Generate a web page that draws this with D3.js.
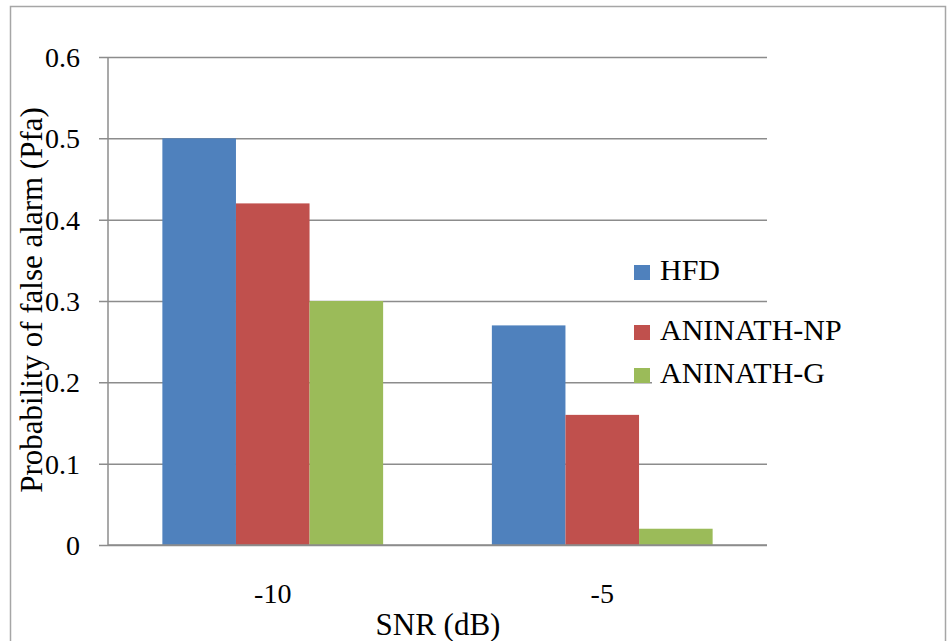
<!DOCTYPE html>
<html>
<head>
<meta charset="utf-8">
<script src="https://cdn.jsdelivr.net/npm/d3@7"></script>
<style>
  html, body { margin: 0; padding: 0; background: #fff; }
  svg { display: block; }
  svg text { font-family: 'Liberation Serif', 'Times New Roman', serif !important; }
</style>
</head>
<body>
<svg id="chart" width="947" height="641"></svg>
<script>
// Probability of false alarm per detector at two SNR levels
const categories = ["-10", "-5"];
const seriesNames = ["HFD", "ANINATH-NP", "ANINATH-G"];
const hfd = [0.5, 0.27];
const aninathNP = [0.42, 0.16];
const aninathG = [0.3, 0.02];
const yTicks = [0, 0.1, 0.2, 0.3, 0.4, 0.5, 0.6];
const colors = ["#4f81bd", "#c0504d", "#9bbb59"];

const seriesValues = [hfd, aninathNP, aninathG];
const FONT = "'Liberation Serif'";

const svg = d3.select("#chart");
const plot = { left: 108, right: 767, top: 57, bottom: 545 };

function serif(sel, size) {
  return sel
    .attr("font-family", FONT)
    .style("font-family", "'Liberation Serif', serif", "important")
    .attr("font-size", size)
    .attr("fill", "#000");
}

// Outer chart frame
svg.append("rect")
  .attr("x", 10.5).attr("y", 6.5)
  .attr("width", 935).attr("height", 650)
  .attr("fill", "#fff")
  .attr("stroke", "#a6a6a6").attr("stroke-width", 1.5);

const x0 = d3.scaleBand()
  .domain(categories)
  .range([plot.left, plot.right])
  .paddingInner(0.33)
  .paddingOuter(0.165);

const x1 = d3.scaleBand()
  .domain(seriesNames)
  .range([0, x0.bandwidth()])
  .padding(0);

const y = d3.scaleLinear()
  .domain([0, 0.6])
  .range([plot.bottom, plot.top]);

// Horizontal gridlines with outside ticks
const yAxis = d3.axisLeft(y)
  .tickValues(yTicks)
  .tickSize(-(plot.right - plot.left))
  .tickFormat(d => d === 0 ? "0" : d3.format(".1f")(d));

const gy = svg.append("g")
  .attr("transform", `translate(${plot.left},0)`)
  .call(yAxis)
  .attr("font-family", FONT);
gy.select(".domain").remove();
gy.selectAll(".tick line")
  .attr("x1", -9)
  .attr("stroke", "#8c8c8c")
  .attr("stroke-width", 1.5);
serif(gy.selectAll(".tick text"), 28)
  .attr("x", -28)
  .attr("dy", "0.34em");

// Vertical value axis line
svg.append("line")
  .attr("x1", plot.left).attr("x2", plot.left)
  .attr("y1", plot.top).attr("y2", plot.bottom)
  .attr("stroke", "#8c8c8c").attr("stroke-width", 1.5);

// Bars
const groups = svg.append("g").selectAll("g")
  .data(categories)
  .join("g")
  .attr("transform", d => `translate(${x0(d)},0)`);

groups.selectAll("rect")
  .data((c, ci) => seriesNames.map((s, si) => ({ s, si, v: seriesValues[si][ci] })))
  .join("rect")
  .attr("x", d => x1(d.s))
  .attr("y", d => y(d.v))
  .attr("width", x1.bandwidth())
  .attr("height", d => y(0) - y(d.v))
  .attr("fill", d => colors[d.si]);

// Category axis line
svg.append("line")
  .attr("x1", plot.left).attr("x2", plot.right)
  .attr("y1", plot.bottom).attr("y2", plot.bottom)
  .attr("stroke", "#8c8c8c").attr("stroke-width", 1.5);

// Category labels
const xAxis = d3.axisBottom(x0).tickSize(0).tickPadding(0);
const gx = svg.append("g")
  .attr("transform", `translate(0,${plot.bottom})`)
  .call(xAxis)
  .attr("font-family", FONT);
gx.select(".domain").remove();
serif(gx.selectAll(".tick text"), 28)
  .attr("y", 58)
  .attr("dy", 0);

// Axis titles
serif(svg.append("text"), 31)
  .attr("x", (plot.left + plot.right) / 2 + 0.5)
  .attr("y", 635)
  .attr("text-anchor", "middle")
  .text("SNR (dB)");

serif(svg.append("text"), 31)
  .attr("transform", "translate(42,300) rotate(-90)")
  .attr("text-anchor", "middle")
  .text("Probability of false alarm (Pfa)");

// Legend
const legendRows = [280, 340, 383];
svg.append("rect")
  .attr("x", 652).attr("y", 357)
  .attr("width", 120).attr("height", 36)
  .attr("fill", "#fff");

const legend = svg.append("g").selectAll("g")
  .data(seriesNames)
  .join("g")
  .attr("transform", (d, i) => `translate(634,${legendRows[i]})`);

legend.append("rect")
  .attr("x", 0).attr("y", -15)
  .attr("width", 16).attr("height", 15)
  .attr("fill", (d, i) => colors[i]);

serif(legend.append("text"), 30)
  .attr("x", 26)
  .attr("y", 0)
  .text(d => d);
</script>
</body>
</html>
